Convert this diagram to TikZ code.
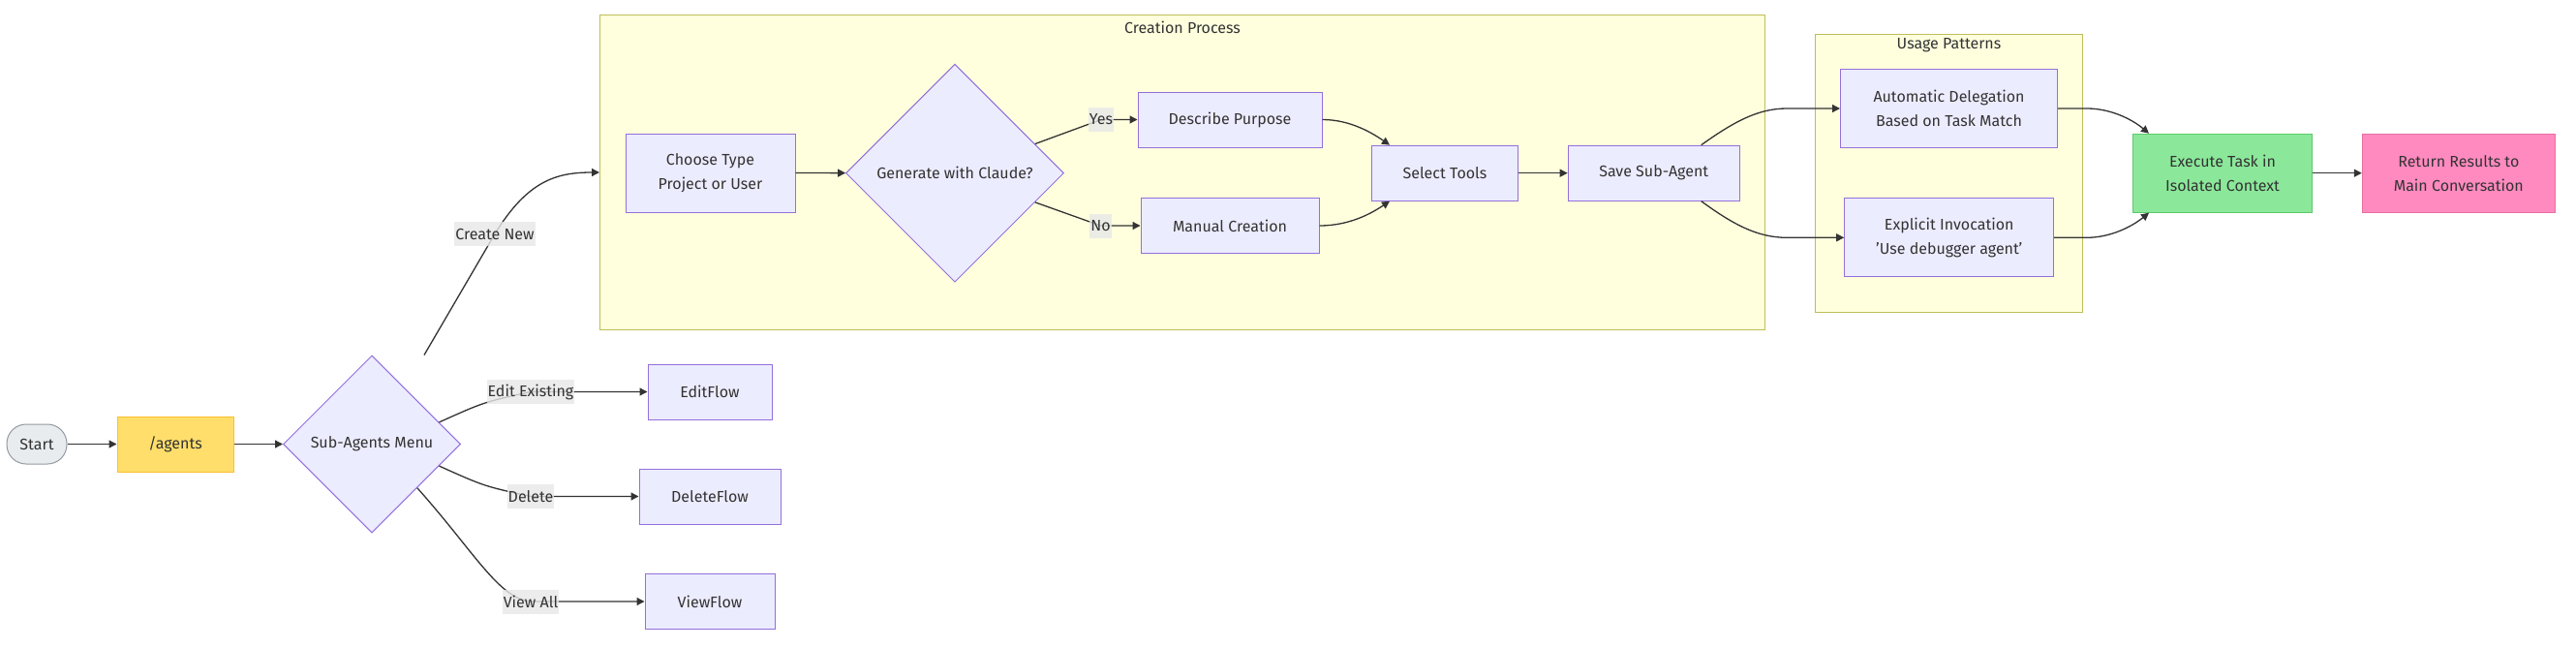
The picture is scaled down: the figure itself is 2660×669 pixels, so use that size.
\documentclass[tikz,border=0pt]{standalone}
\usepackage{fontspec}
\setmainfont{Fira Sans}
\usepackage{tikz}
\definecolor{nodefill}{RGB}{236,236,255}
\definecolor{nodeline}{RGB}{147,112,219}
\definecolor{clusterfill}{RGB}{255,255,222}
\definecolor{clusterline}{RGB}{190,190,90}
\definecolor{edgeline}{RGB}{51,51,51}
\definecolor{lblfill}{RGB}{232,232,232}
\definecolor{textgray}{RGB}{51,51,51}
\definecolor{startfill}{RGB}{232,236,239}
\definecolor{startline}{RGB}{150,155,160}
\definecolor{agentsfill}{RGB}{255,222,107}
\definecolor{agentsline}{RGB}{251,192,45}
\definecolor{execfill}{RGB}{139,232,154}
\definecolor{execline}{RGB}{92,201,107}
\definecolor{returnfill}{RGB}{255,138,192}
\definecolor{returnline}{RGB}{232,112,159}
\usetikzlibrary{shapes.geometric,arrows.meta}

\begin{document}
\begin{tikzpicture}[x=1pt,y=-1pt,
	txt/.style={text=textgray,font=\fontsize{16}{25}\selectfont},
	box/.style={txt,draw=nodeline,fill=nodefill,line width=1pt,minimum height=57pt,inner sep=0pt,align=center},
	tallbox/.style={box,minimum height=81pt},
	decision/.style={txt,diamond,aspect=1,draw=nodeline,fill=nodefill,line width=1pt,inner sep=0pt},
	cluster/.style={draw=clusterline,fill=clusterfill,line width=1pt,inner sep=0pt},
	edgelbl/.style={txt,fill=lblfill,fill opacity=0.8,text opacity=1,inner xsep=1pt,inner ysep=0pt,minimum height=25pt},
	flow/.style={draw=edgeline,line width=1.3pt,-{Triangle[length=8pt,width=8pt]}}]
						
						\path[fill=white,use as bounding box] (0,0) rectangle (2660,669);
						
						\node[cluster,minimum width=1203pt,minimum height=324pt] (creation) at (1221,178) {};
						\node[txt] (creationtitle) at (1221,28) {Creation Process};
						\node[cluster,minimum width=276pt,minimum height=287pt] (usage) at (2012.5,178.7) {};
						\node[txt] (usagetitle) at (2012.5,47) {Usage Patterns};
						
						\node[txt,draw=startline,fill=startfill,line width=1pt,rounded corners=20pt,minimum width=62pt,minimum height=41pt,inner sep=0pt] (start) at (38,458.5) {Start};
						\node[box,draw=agentsline,fill=agentsfill,minimum width=120pt] (agents) at (181,458.5) {/agents};
						\node[decision,minimum width=183pt,minimum height=183pt] (menu) at (384,458.5) {Sub-Agents Menu};
						
						\node[box,minimum width=128pt] (editflow) at (733,404.5) {EditFlow};
						\node[box,minimum width=146pt] (deleteflow) at (733,512.5) {DeleteFlow};
						\node[box,minimum width=134pt] (viewflow) at (733,621) {ViewFlow};
						
						\node[tallbox,minimum width=175pt] (choose) at (733.5,178.5) {Choose Type\\Project or User};
						\node[decision,minimum width=225pt,minimum height=225pt] (gen) at (986,178.7) {Generate with Claude?};
						\node[box,minimum width=190pt] (describe) at (1270,123.5) {Describe Purpose};
						\node[box,minimum width=184pt] (manual) at (1270,233) {Manual Creation};
						\node[box,minimum width=151pt] (select) at (1492,178.7) {Select Tools};
						\node[box,minimum width=177pt] (save) at (1707.7,178.7) {Save Sub-Agent};
						
						\node[tallbox,minimum width=224pt] (auto) at (2012.5,112) {Automatic Delegation\\Based on Task Match};
						\node[tallbox,minimum width=216pt] (explicit) at (2012.7,245.3) {Explicit Invocation\\'Use debugger agent'};
						
						\node[tallbox,draw=execline,fill=execfill,minimum width=185pt] (execute) at (2295,178.7) {Execute Task in\\Isolated Context};
						\node[tallbox,draw=returnline,fill=returnfill,minimum width=199pt] (returnres) at (2538.8,178.7) {Return Results to\\Main Conversation};
						
						\draw[flow] (start) -- (agents);
						\draw[flow] (agents) -- (menu);
						\draw[flow] ([xshift=54pt]menu.north) -- (511,241.5) node[edgelbl] (lblcreate) {Create New} .. controls (545,186) and (575,178) .. (creation.west);
						\draw[flow] (menu.18) .. controls (500,415) .. (548,404.5) node[edgelbl] (lbledit) {Edit Existing} -- (editflow);
						\draw[flow] (menu.-18) .. controls (500,502) .. (548,512.5) node[edgelbl] (lbldelete) {Delete} -- (deleteflow);
						\draw[flow] (menu.-44) .. controls (490,570) and (515,618) .. (548,621) node[edgelbl] (lblview) {View All} -- (viewflow);
						
						\draw[flow] (choose) -- (gen);
						\draw[flow] (gen.20) -- (1137,123.5) node[edgelbl] (lblyes) {Yes} -- (describe);
						\draw[flow] (gen.-20) -- (1136.5,233) node[edgelbl] (lblno) {No} -- (manual);
						\draw[flow] (describe) .. controls (1395,123.5) and (1418,138) .. ([xshift=-57pt]select.north);
						\draw[flow] (manual) .. controls (1395,233) and (1418,219) .. ([xshift=-57pt]select.south);
						\draw[flow] (select) -- (save);
						
						\draw[flow] ([xshift=49pt]save.north) .. controls (1790,126) and (1815,112) .. (1845,112) -- (auto);
						\draw[flow] ([xshift=49pt]save.south) .. controls (1790,232) and (1815,245.3) .. (1845,245.3) -- (explicit);
						\draw[flow] (auto) -- (2155,112) .. controls (2178,112) and (2200,122) .. ([xshift=-76pt]execute.north);
						\draw[flow] (explicit) -- (2155,245.3) .. controls (2178,245.3) and (2200,235) .. ([xshift=-76pt]execute.south);
						\draw[flow] (execute) -- (returnres);
						
					\end{tikzpicture}
\end{document}
